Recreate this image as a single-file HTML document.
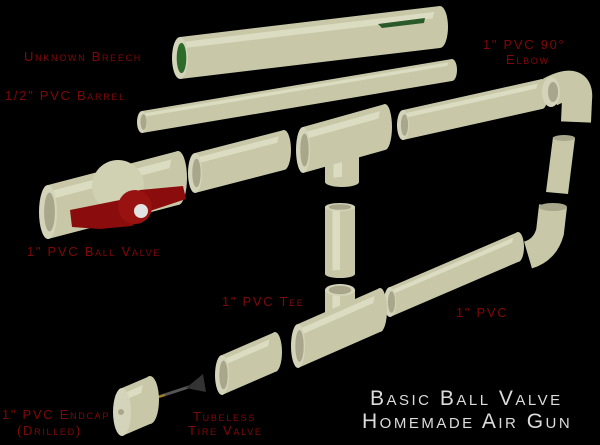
<!DOCTYPE html>
<html><head><style>
html,body{margin:0;padding:0;background:#000;}
svg{display:block}
.l{font-family:"Liberation Sans",sans-serif;font-variant:small-caps;fill:#800808;font-size:13px;letter-spacing:1.7px}
.t{font-family:"Liberation Sans",sans-serif;font-variant:small-caps;fill:#dcdcdc;font-size:21px;letter-spacing:2.5px}
</style></head><body>
<svg id="s" width="600" height="445" viewBox="0 0 600 445" xmlns="http://www.w3.org/2000/svg">
<rect width="600" height="445" fill="#000"/>
<g id="g"></g>
<text class="l" x="24" y="61">Unknown Breech</text>
<text class="l" x="5" y="100">1/2" PVC Barrel</text>
<text class="l" x="483" y="49">1" PVC 90°</text>
<text class="l" x="506" y="64">Elbow</text>
<text class="l" x="27" y="256">1" PVC Ball Valve</text>
<text class="l" x="222" y="306">1" PVC Tee</text>
<text class="l" x="456" y="317">1" PVC</text>
<text class="l" x="2" y="419">1" PVC Endcap</text>
<text class="l" x="17" y="435">(Drilled)</text>
<text class="l" x="193" y="421">Tubeless</text>
<text class="l" x="188" y="435">Tire Valve</text>
<text class="t" x="370" y="405">Basic Ball Valve</text>
<text class="t" x="362" y="428">Homemade Air Gun</text>
</svg>
<script>
var g=document.getElementById('g'),o='';
var B='#c8c8a8',L='#dcdcc2',D='#a9a78b',E='#d4d4ba';
function pipe(x1,y1,x2,y2,h,rx,hole,inner){
 o+='<polygon points="'+x1+','+(y1-h)+' '+x2+','+(y2-h)+' '+x2+','+(y2+h)+' '+x1+','+(y1+h)+'" fill="'+B+'"/>';
 var hh=h*0.3;
 o+='<polygon points="'+x1+','+(y1-h*0.75)+' '+x2+','+(y2-h*0.75)+' '+x2+','+(y2-h*0.75+hh)+' '+x1+','+(y1-h*0.75+hh)+'" fill="'+L+'"/>';
 o+='<ellipse cx="'+x2+'" cy="'+y2+'" rx="'+rx+'" ry="'+h+'" fill="'+B+'"/>';
 o+='<ellipse cx="'+x1+'" cy="'+y1+'" rx="'+rx+'" ry="'+h+'" fill="'+E+'"/>';
 if(hole) o+='<ellipse cx="'+(x1+1.5)+'" cy="'+y1+'" rx="'+(rx*0.6)+'" ry="'+(h*0.72)+'" fill="'+(inner||D)+'"/>';
}
function vpipe(cx,y1,y2,w,ry,top){
 o+='<rect x="'+(cx-w)+'" y="'+y1+'" width="'+(2*w)+'" height="'+(y2-y1)+'" fill="'+B+'"/>';
 o+='<rect x="'+(cx-w*0.5)+'" y="'+y1+'" width="'+(w*0.5)+'" height="'+(y2-y1)+'" fill="'+L+'"/>';
 o+='<ellipse cx="'+cx+'" cy="'+y2+'" rx="'+w+'" ry="'+ry+'" fill="'+B+'"/>';
 o+='<ellipse cx="'+cx+'" cy="'+y1+'" rx="'+w+'" ry="'+ry+'" fill="'+E+'"/>';
 if(top) o+='<ellipse cx="'+cx+'" cy="'+y1+'" rx="'+(w*0.75)+'" ry="'+(ry*0.7)+'" fill="'+D+'"/>';
}
pipe(180,58,440,27,21,8,true,'#2e6a2a');
o+='<polygon points="378,24 425,18 424,23 382,28" fill="#2a5a2a"/>';
pipe(142,122,452,70,11,5,true);
pipe(48,212,178,178,27,9,true);
o+='<circle cx="118" cy="186" r="26" fill="#d0d0b2"/>';
o+='<polygon points="70,210 120,200 140,190 183,186 186,199 150,211 132,226 100,229 72,227" fill="#8a0c0c"/>';
o+='<circle cx="135" cy="207" r="17" fill="#981212"/>';
o+='<circle cx="141" cy="211" r="7" fill="#e2e2e2"/>';
pipe(195,173,284,150,20,7,true);
vpipe(342,150,182,17,5,false);
pipe(303,150,385,127,23,7,true);
pipe(403,125,542,94,15,6,true);
o+='<path d="M550 92 Q580 76 577 100 L576 122" stroke="'+B+'" stroke-width="30" fill="none"/>';
o+='<ellipse cx="551" cy="92" rx="9" ry="15" fill="'+E+'"/><ellipse cx="553" cy="92" rx="5" ry="10" fill="'+D+'"/>';
o+='<polygon points="553,137 575,138 568,194 546,192" fill="'+B+'"/>';
o+='<ellipse cx="564" cy="138" rx="11" ry="3" fill="'+D+'"/>';
o+='<path d="M553 206 L550 232 Q545 250 528 255" stroke="'+B+'" stroke-width="28" fill="none"/>';
o+='<ellipse cx="553" cy="207" rx="14" ry="4" fill="'+D+'"/>';
pipe(390,302,518,247,15,6,true);
vpipe(340,207,274,15,4,true);
vpipe(340,290,330,15,6,true);
pipe(298,346,380,310,22,7,true);
pipe(222,375,275,352,20,7,true);
o+='<line x1="158" y1="397" x2="198" y2="384" stroke="#555" stroke-width="3"/>';
o+='<polygon points="186,388 203,374 206,392" fill="#333"/>';
o+='<line x1="155" y1="398" x2="165" y2="395" stroke="#a08020" stroke-width="2"/>';
pipe(122,412,150,400,24,9,false);
o+='<circle cx="121" cy="412" r="3" fill="'+D+'"/>';
g.innerHTML=o;
</script>
</body></html>
